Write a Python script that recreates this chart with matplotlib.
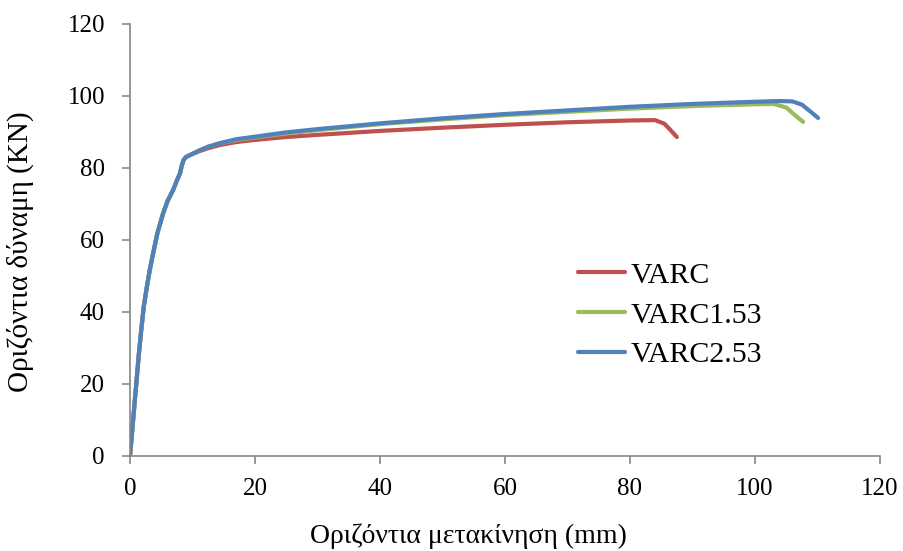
import matplotlib
matplotlib.use("Agg")
import matplotlib.pyplot as plt

plt.rcParams['font.family'] = ['Liberation Serif', 'DejaVu Serif']

# shared elastic part of the curves
x_start = [0, 0.3, 0.6, 1.0, 1.4, 1.8, 2.2, 2.7, 3.2, 3.7, 4.4, 5.3, 6.0, 6.9, 7.5, 8.0, 8.3, 8.6, 9.0, 9.6, 11.0, 12.5, 14.4]
y_start = [0, 6, 12, 20, 28, 35, 41.5, 47, 52, 56.3, 62, 67.4, 70.8, 73.9, 76.5, 78.5, 80.8, 82.3, 83.1, 83.6, 84.8, 85.9, 86.9]

varc_x = x_start + [17, 20, 25, 30, 40, 50, 60, 70, 80, 84, 85.5, 86.5, 87.5]
varc_y = y_start[:-3] + [84.6, 85.5, 86.4] + [87.2, 87.8, 88.6, 89.2, 90.3, 91.2, 92.0, 92.7, 93.2, 93.3, 92.3, 90.5, 88.6]

varc153_x = x_start + [17, 20, 25, 30, 40, 50, 60, 70, 80, 90, 100, 103, 105, 106.5, 107.7]
varc153_y = y_start + [87.8, 88.5, 89.6, 90.5, 92.2, 93.5, 94.7, 95.6, 96.5, 97.2, 97.7, 97.8, 96.8, 94.5, 92.8]

varc253_x = x_start + [17, 20, 25, 30, 40, 50, 60, 70, 80, 90, 100, 104, 106, 107.5, 109, 110.1]
varc253_y = y_start + [88.0, 88.7, 89.9, 90.8, 92.4, 93.8, 95.0, 96.0, 97.0, 97.8, 98.4, 98.6, 98.5, 97.6, 95.5, 93.9]

series = [
    ('VARC', varc_x, varc_y, '#C0504D'),
    ('VARC1.53', varc153_x, varc153_y, '#9BBB59'),
    ('VARC2.53', varc253_x, varc253_y, '#4F81BD'),
]

fig = plt.figure(figsize=(9.04, 5.51), dpi=100)
ax = fig.add_axes([130 / 904, 1 - 456 / 551, 750 / 904, 432 / 551])

for name, xs, ys, col in series:
    ax.plot(xs, ys, color=col, lw=3, label=name, solid_capstyle='round', solid_joinstyle='round')

ax.set_xlim(0, 120)
ax.set_ylim(0, 120)
ax.set_xticks(range(0, 121, 20))
ax.set_yticks(range(0, 121, 20))
for s in ['top', 'right']:
    ax.spines[s].set_visible(False)
for s in ['left', 'bottom']:
    ax.spines[s].set_color('#868686')
    ax.spines[s].set_linewidth(1.2)
ax.tick_params(colors='#868686', length=6, width=1.2, labelsize=18, labelcolor='black')
ax.tick_params(axis='x', pad=10)
ax.tick_params(axis='y', pad=12)

ax.set_xlabel('Οριζόντια μετακίνηση (mm)', fontsize=20)
ax.set_ylabel('Οριζόντια δύναμη (KN)', fontsize=21)
ax.xaxis.set_label_coords(0.451, -0.155)
ax.yaxis.set_label_coords(-0.128, 0.473)

ax.legend(loc='upper left', bbox_to_anchor=(0.581, 0.477), frameon=False, fontsize=21.5,
          handlelength=1.6, handletextpad=0.17, labelspacing=0.43, borderaxespad=0)

fig.savefig('out.png', dpi=100)
